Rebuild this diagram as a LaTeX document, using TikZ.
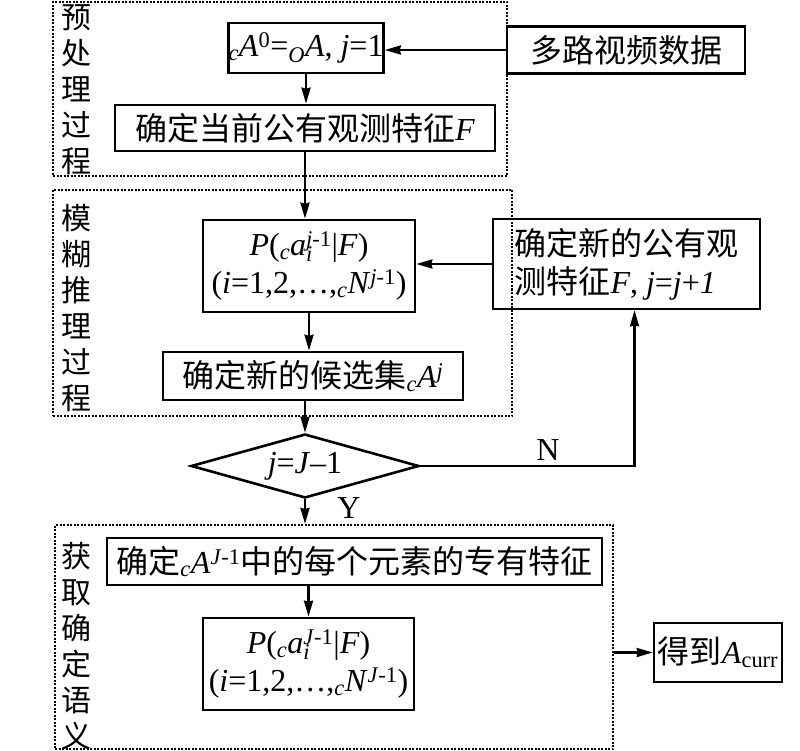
\documentclass[tikz,border=0pt]{standalone}
\usepackage{fontspec}
\setmainfont{Liberation Serif}
\newfontfamily\cjk{Noto Sans CJK SC}
\usetikzlibrary{arrows.meta,shapes.geometric}
\newcommand{\zh}[1]{{\cjk #1}}
\newcommand{\vi}[1]{\textit{#1}}
\newcommand{\ps}[1]{\textsubscript{\textit{#1}}}
\newcommand{\subsup}[2]{\rlap{\textsubscript{#1}}\textsuperscript{#2}}
\begin{document}
\begin{tikzpicture}[x=1pt,y=-1pt,
  font=\fontsize{32}{38}\selectfont,
  box/.style={draw,line width=2.6pt,inner sep=0pt,align=center},
  grp/.style={draw,line width=2.2pt,dash pattern=on 2pt off 1.5pt,inner sep=0pt},
  arr/.style={line width=2.4pt,-{Stealth[length=16pt,width=9pt,inset=1pt]}},
  vlbl/.style={font=\cjk\fontsize{30}{36}\selectfont,align=center,inner sep=0pt}]

\useasboundingbox (0,0) rectangle (800,751);

% Groups
\node[grp,minimum width=454,minimum height=174] (pre) at (280,89) {};
\node[grp,minimum width=459,minimum height=226] (fuzzy) at (282.5,303) {};
\node[grp,minimum width=558,minimum height=224] (post) at (334,637) {};

% Group labels
\node[vlbl] (lpre) at (76,90) {预\\处\\理\\过\\程};
\node[vlbl] (lfuzzy) at (76,308) {模\\糊\\推\\理\\过\\程};
\node[vlbl] (lpost) at (76,646) {获\\取\\确\\定\\语\\义};

% Boxes
\node[box,minimum width=148,minimum height=50] (init) at (306,48)
  {\ps{c}\vi{A}\textsuperscript{0}=\ps{O}\vi{A}, \vi{j}=1};
\node[box,minimum width=238,minimum height=47] (data) at (626,50) {\zh{多路视频数据}};
\node[box,minimum width=380,minimum height=46] (feat) at (305,128)
  {\zh{确定当前公有观测特征}\vi{F}};
\node[box,minimum width=212,minimum height=92] (prob) at (309,266)
  {\vi{P}(\ps{c}\vi{a}\subsup{\vi{i}}{\vi{j}-1}|\vi{F})\\
   (\vi{i}=1,2,\ldots,\ps{c}\vi{N}\textsuperscript{\vi{j}-1})};
\node[box,minimum width=267,minimum height=90,align=left] (update) at (626.5,264)
  {\zh{确定新的公有观}\\\zh{测特征}\vi{F}, \vi{j}=\vi{j}+\vi{1}};
\node[box,minimum width=300,minimum height=48] (cand) at (313,376)
  {\zh{确定新的候选集}\ps{c}\vi{A}\textsuperscript{\vi{j}}};
\node[draw,diamond,line width=2.6pt,inner sep=0pt,aspect=3.5,
  minimum width=228,minimum height=64] (test) at (305,466)
  {\vi{j}=\vi{J}–1};
\node[box,minimum width=495,minimum height=47] (spec) at (354.5,561.5)
  {\zh{确定}\ps{c}\vi{A}\textsuperscript{\vi{J}-1}\zh{中的每个元素的专有特征}};
\node[box,minimum width=211,minimum height=92] (prob2) at (308.5,664)
  {\vi{P}(\ps{c}\vi{a}\subsup{\vi{i}}{\vi{J}-1}|\vi{F})\\
   (\vi{i}=1,2,\ldots,\ps{c}\vi{N}\textsuperscript{\vi{J}-1})};
\node[box,minimum width=128,minimum height=59] (result) at (718,652.5)
  {\zh{得到}\vi{A}\textsubscript{curr}};

% Branch labels
\node (lblN) at (548,450) {N};
\node (lblY) at (349,508) {Y};

% Arrows
\draw[arr] (data.west) -- (data.west -| init.east);
\draw[arr] (init.south) -- (init.south |- feat.north);
\draw[arr] (feat.south) -- (feat.south |- prob.north);
\draw[arr] (prob.south) -- (prob.south |- cand.north);
\draw[arr] (cand.south -| test.north) -- (test.north);
\draw[arr] (update.west) -- (update.west -| prob.east);
\draw[arr] (test.east) -| ([xshift=8pt]update.south);
\draw[arr] (test.south) -- (test.south |- post.north);
\draw[arr] (spec.south -| prob2.north) -- (prob2.north);
\draw[arr] (result.west -| post.east) -- (result.west);

\end{tikzpicture}
\end{document}
